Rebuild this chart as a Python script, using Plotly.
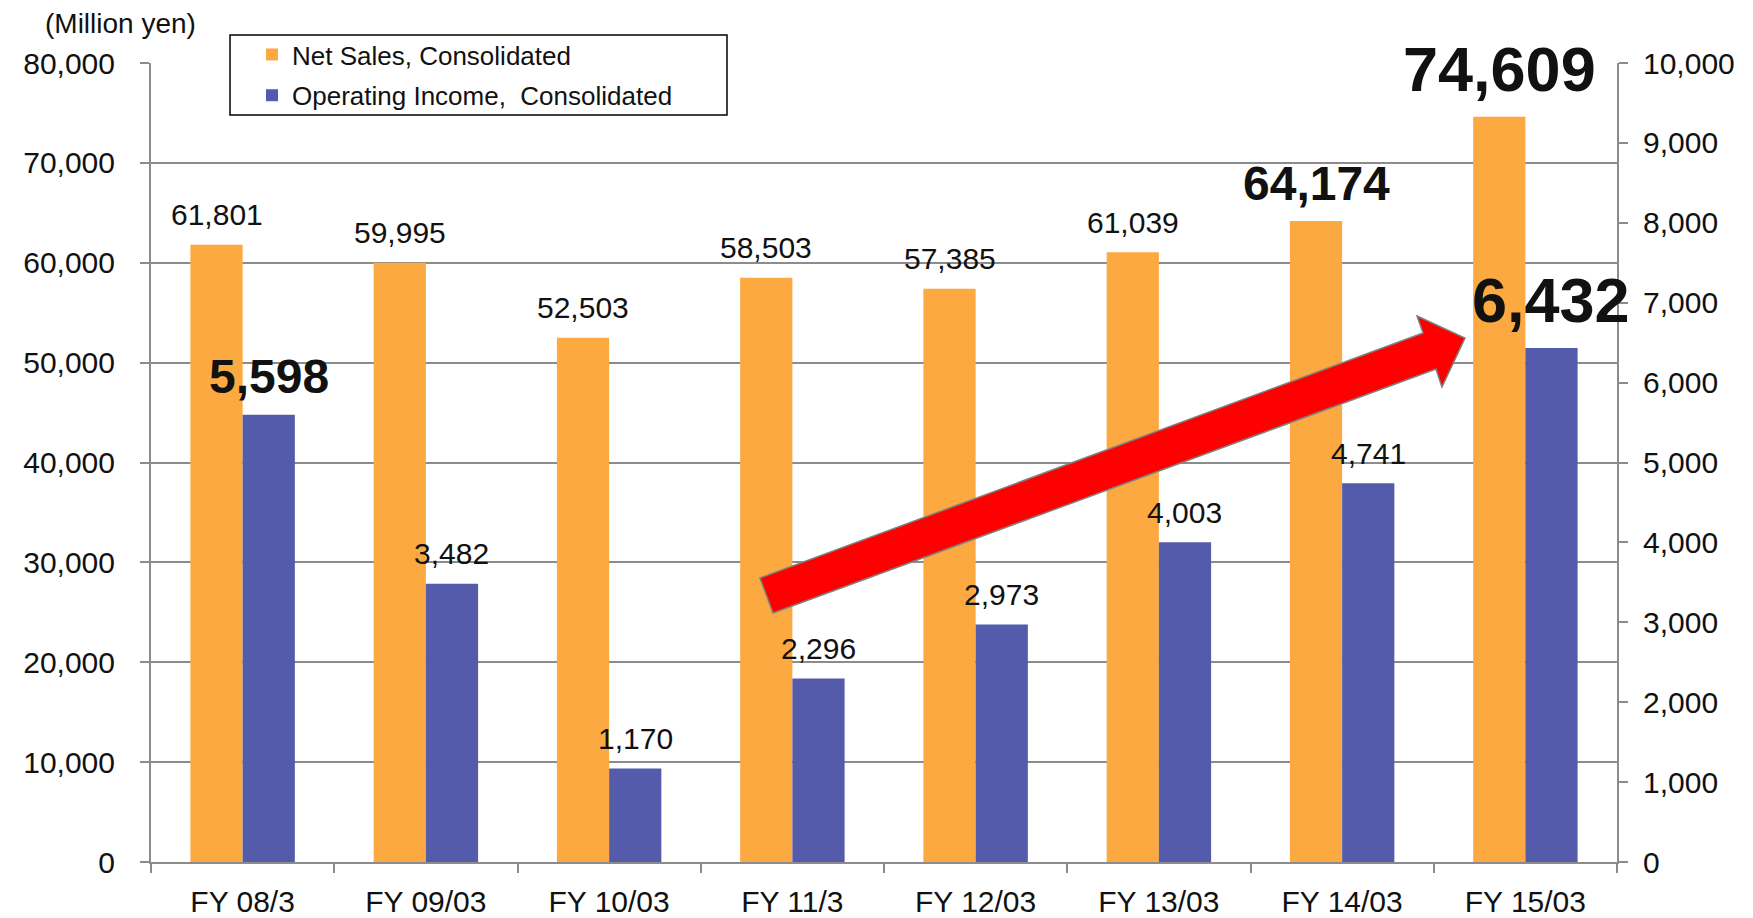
import plotly.graph_objects as go

categories = ["FY 08/3", "FY 09/03", "FY 10/03", "FY 11/3", "FY 12/03", "FY 13/03", "FY 14/03", "FY 15/03"]
net_sales = [61801, 59995, 52503, 58503, 57385, 61039, 64174, 74609]
op_income = [5598, 3482, 1170, 2296, 2973, 4003, 4741, 6432]
# emphasis flags: 0 normal, 1 bold medium, 2 bold large
sales_emph = [0, 0, 0, 0, 0, 0, 1, 2]
income_emph = [1, 0, 0, 0, 0, 0, 0, 2]

ORANGE = "#FBA940"
BLUE = "#545BAB"
GRID = "#8C8C8C"
FONT = "Liberation Sans, Arial, sans-serif"
TXT = "#111111"
BW = 0.285

fig = go.Figure()
fig.add_trace(go.Bar(x=categories, y=net_sales, name="Net Sales, Consolidated", legendgroup="a",
                     marker=dict(color=ORANGE, line=dict(width=0)), width=BW, offset=-BW, yaxis="y"))
fig.add_trace(go.Bar(x=categories, y=op_income, name="Operating Income,\u00a0 Consolidated", legendgroup="b",
                     marker=dict(color=BLUE, line=dict(width=0)), width=BW, offset=0, yaxis="y2"))

sizes = {0: 30, 1: 48, 2: 63}
shifts = {0: 30, 1: 38, 2: 48}
annotations = []
for cat, v, e in zip(categories, net_sales, sales_emph):
    annotations.append(dict(x=cat, y=v, xref="x", yref="y", text=(f"<b>{v:,}</b>" if e else f"{v:,}"),
                            showarrow=False, xshift=-26, yshift=shifts[e], yanchor="middle",
                            font=dict(family=FONT, size=sizes[e], color=TXT)))
for cat, v, e in zip(categories, op_income, income_emph):
    annotations.append(dict(x=cat, y=v, xref="x", yref="y2", text=(f"<b>{v:,}</b>" if e else f"{v:,}"),
                            showarrow=False, xshift=26, yshift=shifts[e], yanchor="middle",
                            font=dict(family=FONT, size=sizes[e], color=TXT)))
annotations.append(dict(x=-0.021, y=1.049, xref="paper", yref="paper", text="(Million yen)",
                        showarrow=False, xanchor="center", yanchor="middle",
                        font=dict(family=FONT, size=28, color=TXT)))

# decorative growth arrow (paper coordinates)
arrow_pts = [(0.4154, 0.3554), (0.8677, 0.6621), (0.8636, 0.6834), (0.8963, 0.6558),
             (0.8806, 0.5945), (0.8765, 0.6170), (0.4243, 0.3116)]
path = "M " + " L ".join(f"{x},{y}" for x, y in arrow_pts) + " Z"

fig.update_layout(
    width=1753, height=918,
    margin=dict(l=151, r=136, t=63, b=56, autoexpand=False),
    paper_bgcolor="white", plot_bgcolor="white",
    barmode="group",
    font=dict(family=FONT, size=30, color=TXT),
    showlegend=True,
    legend=dict(x=0.0689, y=1.040, xanchor="left", yanchor="top",
                bgcolor="rgba(0,0,0,0)", borderwidth=0,
                traceorder="grouped", tracegroupgap=4,
                font=dict(family=FONT, size=26, color=TXT)),
    xaxis=dict(type="category", range=[-0.5, len(categories) - 0.5],
               tickson="boundaries", ticks="outside", ticklen=9,
               tickcolor=GRID, tickwidth=2, showline=True, linecolor=GRID, linewidth=2,
               showgrid=False, tickfont=dict(family=FONT, size=30, color=TXT),
               ticklabelstandoff=12, automargin=False),
    yaxis=dict(range=[0, 80000], dtick=10000, tickformat=",", ticks="outside", ticklen=9,
               tickcolor=GRID, tickwidth=2, showline=True, linecolor=GRID, linewidth=2,
               showgrid=True, gridcolor=GRID, gridwidth=2, zeroline=False,
               tickfont=dict(family=FONT, size=30, color=TXT), ticklabelstandoff=19,
               automargin=False),
    yaxis2=dict(range=[0, 10000], dtick=1000, tickformat=",", ticks="outside", ticklen=9,
                overlaying="y", side="right",
                tickcolor=GRID, tickwidth=2, showline=True, linecolor=GRID, linewidth=2,
                showgrid=False, zeroline=False,
                tickfont=dict(family=FONT, size=30, color=TXT), ticklabelstandoff=9,
                automargin=False),
    annotations=annotations,
    shapes=[
        dict(type="rect", xref="paper", yref="paper", x0=0.0539, x1=0.3929, y0=0.9349, y1=1.035,
             layer="above", fillcolor="white", line=dict(color="black", width=1.5)),
        dict(type="path", path=path, xref="paper", yref="paper", layer="above",
             fillcolor="#FF0000", line=dict(color="#7F7F7F", width=1.5)),
    ],
)

fig.write_html("out.html")
